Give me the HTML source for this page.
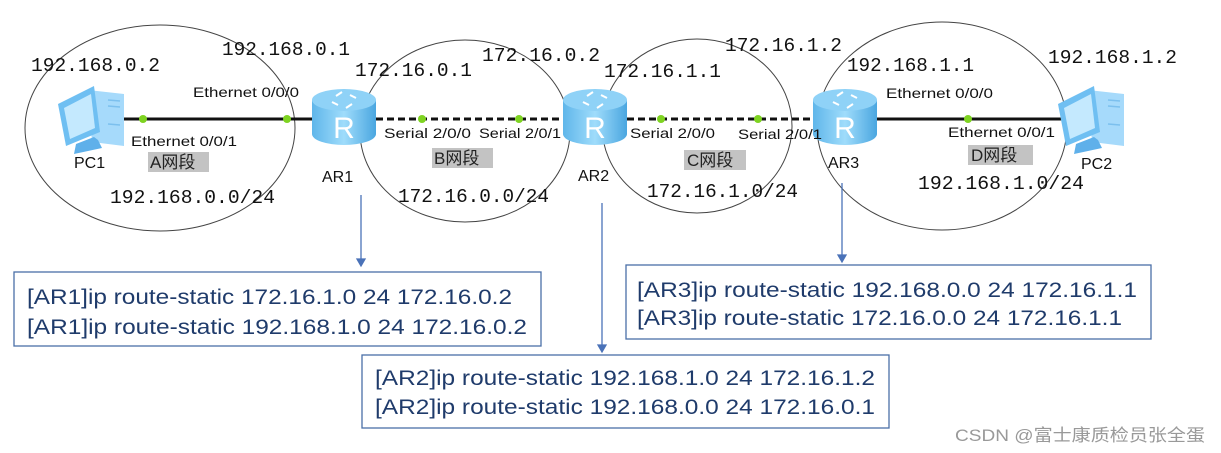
<!DOCTYPE html>
<html><head><meta charset="utf-8"><style>
html,body{margin:0;padding:0;background:#fff;}
svg{display:block}
.m{font-family:"Liberation Mono",monospace;font-size:19px;fill:#111;}
.s{font-family:"Liberation Sans",sans-serif;font-size:14px;fill:#111;}
.l{font-family:"Liberation Sans",sans-serif;font-size:16px;fill:#111;}
.g{font-family:"Liberation Sans","Noto Sans CJK SC",sans-serif;font-size:17px;fill:#222;}
.b{font-family:"Liberation Sans","Noto Sans CJK SC",sans-serif;font-size:21px;fill:#1f3b6b;}
</style></head><body>
<svg width="1221" height="453" viewBox="0 0 1221 453" xmlns="http://www.w3.org/2000/svg">
<defs>
<linearGradient id="rg" x1="0" x2="1" y1="0" y2="0">
<stop offset="0" stop-color="#5fb6ea"/><stop offset="0.5" stop-color="#9fdcfb"/><stop offset="1" stop-color="#4aa6e0"/>
</linearGradient>
<g id="router">
<path d="M-32,-18 L-32,16 A32,11 0 0 0 32,16 L32,-18 Z" fill="url(#rg)"/>
<ellipse cx="0" cy="-18" rx="32" ry="11" fill="#8fd2f7"/>
<path d="M-8,-22 l6,-4 M8,-14 l-6,4 M-12,-16 l6,3 M12,-20 l-6,-3" stroke="#fff" stroke-width="2"/>
<text x="0" y="20" text-anchor="middle" font-family="Liberation Sans,sans-serif" font-size="30" fill="#fff">R</text>
</g>
<g id="pc">
<path d="M30,6 L66,10 L66,62 L34,58 Z" fill="#a6dafb"/>
<path d="M50,16 L62,17 M50,22 L62,23 M50,40 L62,41" stroke="#7cc0ee" stroke-width="1.5"/>
<path d="M0,20 L36,2 L42,48 L8,62 Z" fill="#6fbff2"/>
<path d="M6,24 L33,10 L37,44 L12,55 Z" fill="#c4e9fe"/>
<path d="M18,60 L36,53 L40,56 L44,64 L16,70 Z" fill="#5fb0ea"/>
</g>
</defs>
<g fill="none" stroke="#444" stroke-width="1">
<ellipse cx="160" cy="128" rx="135" ry="103"/>
<ellipse cx="465" cy="131" rx="105" ry="91"/>
<ellipse cx="697" cy="126" rx="95" ry="87"/>
<ellipse cx="942" cy="126" rx="125" ry="104"/>
</g>
<line x1="118" y1="119" x2="312" y2="119" stroke="#111" stroke-width="3"/>
<line x1="376" y1="119" x2="563" y2="119" stroke="#111" stroke-width="3" stroke-dasharray="7,4"/>
<line x1="627" y1="119" x2="813" y2="119" stroke="#111" stroke-width="3" stroke-dasharray="7,4"/>
<line x1="877" y1="119" x2="1062" y2="119" stroke="#111" stroke-width="3"/>
<g fill="#7ed321">
<circle cx="143" cy="119" r="4"/><circle cx="287" cy="119" r="4"/><circle cx="422" cy="119" r="4"/><circle cx="519" cy="119" r="4"/>
<circle cx="661" cy="119" r="4"/><circle cx="758" cy="119" r="4"/><circle cx="872" cy="119" r="4"/><circle cx="968" cy="119" r="4"/>
</g>
<use href="#router" x="344" y="118"/>
<use href="#router" x="595" y="118"/>
<use href="#router" x="845" y="118"/>
<use href="#pc" x="58" y="84"/>
<use href="#pc" x="1058" y="84"/>
<g class="m">
<text x="31" y="71" textLength="129" lengthAdjust="spacingAndGlyphs">192.168.0.2</text>
<text x="222" y="55" textLength="128" lengthAdjust="spacingAndGlyphs">192.168.0.1</text>
<text x="355" y="76" textLength="117" lengthAdjust="spacingAndGlyphs">172.16.0.1</text>
<text x="482" y="61" textLength="118" lengthAdjust="spacingAndGlyphs">172.16.0.2</text>
<text x="604" y="77" textLength="117" lengthAdjust="spacingAndGlyphs">172.16.1.1</text>
<text x="725" y="51" textLength="117" lengthAdjust="spacingAndGlyphs">172.16.1.2</text>
<text x="847" y="71" textLength="127" lengthAdjust="spacingAndGlyphs">192.168.1.1</text>
<text x="1048" y="63" textLength="129" lengthAdjust="spacingAndGlyphs">192.168.1.2</text>
<text x="110" y="203" textLength="165" lengthAdjust="spacingAndGlyphs">192.168.0.0/24</text>
<text x="398" y="202" textLength="151" lengthAdjust="spacingAndGlyphs">172.16.0.0/24</text>
<text x="647" y="197" textLength="151" lengthAdjust="spacingAndGlyphs">172.16.1.0/24</text>
<text x="918" y="189" textLength="166" lengthAdjust="spacingAndGlyphs">192.168.1.0/24</text>
</g>
<g class="s">
<text x="193" y="97" textLength="106" lengthAdjust="spacingAndGlyphs">Ethernet 0/0/0</text>
<text x="131" y="146" textLength="106" lengthAdjust="spacingAndGlyphs">Ethernet 0/0/1</text>
<text x="384" y="138" textLength="87" lengthAdjust="spacingAndGlyphs">Serial 2/0/0</text>
<text x="479" y="138" textLength="82" lengthAdjust="spacingAndGlyphs">Serial 2/0/1</text>
<text x="630" y="138" textLength="85" lengthAdjust="spacingAndGlyphs">Serial 2/0/0</text>
<text x="738" y="139" textLength="84" lengthAdjust="spacingAndGlyphs">Serial 2/0/1</text>
<text x="886" y="98" textLength="107" lengthAdjust="spacingAndGlyphs">Ethernet 0/0/0</text>
<text x="948" y="137" textLength="107" lengthAdjust="spacingAndGlyphs">Ethernet 0/0/1</text>
</g>
<g class="l">
<text x="74" y="168">PC1</text>
<text x="322" y="182">AR1</text>
<text x="578" y="181">AR2</text>
<text x="828" y="168">AR3</text>
<text x="1081" y="169">PC2</text>
</g>
<g fill="#c3c3c3">
<rect x="148" y="152" width="61" height="20"/>
<rect x="432" y="148" width="61" height="20"/>
<rect x="684" y="150" width="62" height="20"/>
<rect x="968" y="145" width="65" height="20"/>
</g>
<g class="g">
<text x="150" y="168">A网段</text>
<text x="434" y="164">B网段</text>
<text x="687" y="166">C网段</text>
<text x="971" y="161">D网段</text>
</g>
<g stroke="#4a72b8" stroke-width="1.3" fill="#4a72b8">
<line x1="361" y1="195" x2="361" y2="262"/><path d="M357,259 L365,259 L361,266 Z"/>
<line x1="602" y1="203" x2="602" y2="348"/><path d="M598,345 L606,345 L602,352 Z"/>
<line x1="842" y1="183" x2="842" y2="258"/><path d="M838,255 L846,255 L842,262 Z"/>
</g>
<g fill="#fff" stroke="#4a6fa8" stroke-width="1.3">
<rect x="14" y="272" width="527" height="74"/>
<rect x="362" y="355" width="527" height="73"/>
<rect x="626" y="265" width="525" height="74"/>
</g>
<g class="b">
<text x="27" y="304" textLength="485" lengthAdjust="spacingAndGlyphs">[AR1]ip route-static 172.16.1.0 24 172.16.0.2</text>
<text x="27" y="334" textLength="500" lengthAdjust="spacingAndGlyphs">[AR1]ip route-static 192.168.1.0 24 172.16.0.2</text>
<text x="375" y="385" textLength="500" lengthAdjust="spacingAndGlyphs">[AR2]ip route-static 192.168.1.0 24 172.16.1.2</text>
<text x="375" y="414" textLength="500" lengthAdjust="spacingAndGlyphs">[AR2]ip route-static 192.168.0.0 24 172.16.0.1</text>
<text x="637" y="297" textLength="500" lengthAdjust="spacingAndGlyphs">[AR3]ip route-static 192.168.0.0 24 172.16.1.1</text>
<text x="637" y="325" textLength="485" lengthAdjust="spacingAndGlyphs">[AR3]ip route-static 172.16.0.0 24 172.16.1.1</text>
</g>
<text x="955" y="441" textLength="250" lengthAdjust="spacingAndGlyphs" font-family="Liberation Sans,'Noto Sans CJK SC',sans-serif" font-size="17" fill="#999">CSDN @富士康质检员张全蛋</text>
</svg>
</body></html>
